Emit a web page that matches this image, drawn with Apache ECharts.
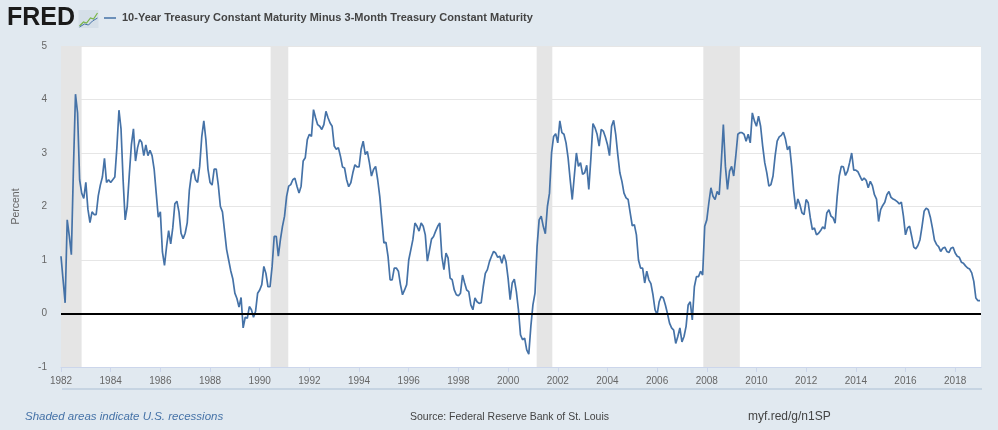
<!DOCTYPE html>
<html>
<head>
<meta charset="utf-8">
<script src="https://cdn.jsdelivr.net/npm/echarts@6/dist/echarts.min.js"></script>
<style>
  html, body { margin: 0; padding: 0; background: #e1e9f0; }
  #chart { width: 998px; height: 430px; }
</style>
</head>
<body>
<div id="chart"></div>
<script>
// Monthly values (percent), January..December
const y1982 = [1.07, 0.63, 0.2, 1.75, 1.45, 1.1, 2.7, 4.1, 3.75, 2.5, 2.25, 2.15];
const y1983 = [2.45, 1.95, 1.7, 1.9, 1.85, 1.85, 2.2, 2.4, 2.55, 2.9, 2.45, 2.5];
const y1984 = [2.45, 2.5, 2.55, 3.1, 3.8, 3.45, 2.5, 1.75, 2.0, 2.6, 3.15, 3.45];
const y1985 = [2.85, 3.1, 3.25, 3.2, 2.95, 3.15, 2.95, 3.05, 2.95, 2.7, 2.25, 1.8];
const y1986 = [1.9, 1.15, 0.9, 1.25, 1.55, 1.3, 1.6, 2.05, 2.1, 1.9, 1.5, 1.4];
const y1987 = [1.5, 1.7, 2.3, 2.6, 2.7, 2.5, 2.45, 2.75, 3.3, 3.6, 3.25, 2.7];
const y1988 = [2.45, 2.4, 2.7, 2.7, 2.4, 2.0, 1.9, 1.55, 1.2, 1.0, 0.8, 0.65];
const y1989 = [0.38, 0.28, 0.12, 0.3, -0.27, -0.07, -0.09, 0.13, 0.07, -0.07, 0.04, 0.38];
const y1990 = [0.44, 0.54, 0.88, 0.75, 0.5, 0.5, 0.88, 1.44, 1.44, 1.07, 1.38, 1.63];
const y1991 = [1.82, 2.19, 2.38, 2.41, 2.5, 2.53, 2.38, 2.25, 2.38, 2.85, 2.91, 3.25];
const y1992 = [3.35, 3.31, 3.81, 3.66, 3.53, 3.5, 3.44, 3.53, 3.78, 3.66, 3.56, 3.5];
const y1993 = [3.13, 3.07, 3.1, 2.94, 2.74, 2.72, 2.5, 2.37, 2.44, 2.63, 2.78, 2.74];
const y1994 = [2.74, 3.07, 3.22, 2.97, 3.03, 2.82, 2.57, 2.69, 2.75, 2.5, 2.19, 1.75];
const y1995 = [1.32, 1.33, 1.07, 0.63, 0.63, 0.85, 0.85, 0.79, 0.54, 0.35, 0.44, 0.54];
const y1996 = [1.0, 1.19, 1.38, 1.69, 1.63, 1.54, 1.69, 1.63, 1.47, 0.98, 1.18, 1.39];
const y1997 = [1.44, 1.54, 1.63, 1.69, 1.07, 0.82, 1.13, 1.04, 0.66, 0.63, 0.44, 0.35];
const y1998 = [0.33, 0.38, 0.72, 0.57, 0.44, 0.41, 0.16, 0.07, 0.29, 0.22, 0.19, 0.2];
const y1999 = [0.5, 0.75, 0.82, 0.97, 1.07, 1.16, 1.13, 1.05, 1.07, 0.94, 1.1, 0.97];
const y2000 = [0.66, 0.26, 0.57, 0.64, 0.41, 0.07, -0.4, -0.49, -0.46, -0.68, -0.76, -0.24];
const y2001 = [0.16, 0.38, 1.25, 1.75, 1.82, 1.63, 1.49, 2.0, 2.25, 3.0, 3.31, 3.36];
const y2002 = [3.19, 3.6, 3.38, 3.35, 3.19, 2.91, 2.5, 2.13, 2.57, 3.0, 2.75, 2.82];
const y2003 = [2.6, 2.63, 2.77, 2.32, 2.9, 3.55, 3.47, 3.35, 3.13, 3.44, 3.41, 3.3];
const y2004 = [3.16, 2.95, 3.5, 3.61, 3.35, 2.97, 2.63, 2.47, 2.25, 2.16, 2.13, 1.88];
const y2005 = [1.64, 1.66, 1.47, 1.0, 0.85, 0.85, 0.57, 0.79, 0.63, 0.56, 0.35, 0.07];
const y2006 = [-0.02, 0.22, 0.32, 0.29, 0.16, 0.0, -0.18, -0.27, -0.31, -0.56, -0.43, -0.27];
const y2007 = [-0.53, -0.43, -0.24, 0.16, 0.22, -0.12, 0.5, 0.69, 0.69, 0.79, 0.72, 1.63];
const y2008 = [1.75, 2.07, 2.35, 2.19, 2.13, 2.28, 2.22, 2.82, 3.53, 2.75, 2.32, 2.66];
const y2009 = [2.75, 2.57, 2.94, 3.35, 3.38, 3.38, 3.35, 3.22, 3.35, 3.19, 3.75, 3.6];
const y2010 = [3.5, 3.69, 3.5, 3.13, 2.82, 2.63, 2.38, 2.41, 2.57, 2.94, 3.22, 3.3];
const y2011 = [3.33, 3.39, 3.26, 3.06, 3.13, 2.75, 2.28, 1.95, 2.14, 2.03, 1.88, 1.85];
const y2012 = [2.13, 2.07, 1.79, 1.57, 1.6, 1.47, 1.5, 1.55, 1.62, 1.58, 1.88, 1.94];
const y2013 = [1.82, 1.79, 1.69, 2.19, 2.57, 2.75, 2.74, 2.58, 2.66, 2.82, 3.0, 2.68];
const y2014 = [2.68, 2.65, 2.57, 2.49, 2.53, 2.49, 2.35, 2.47, 2.39, 2.22, 2.14, 1.72];
const y2015 = [1.94, 2.02, 2.08, 2.22, 2.28, 2.17, 2.14, 2.12, 2.09, 2.05, 2.08, 1.82];
const y2016 = [1.47, 1.6, 1.63, 1.44, 1.24, 1.21, 1.27, 1.38, 1.63, 1.91, 1.97, 1.94];
const y2017 = [1.8, 1.6, 1.37, 1.29, 1.25, 1.16, 1.22, 1.24, 1.16, 1.14, 1.22, 1.24];
const y2018 = [1.13, 1.07, 1.05, 0.96, 0.94, 0.89, 0.85, 0.83, 0.76, 0.6, 0.29, 0.24];
const y2019 = [0.24];

const years = [1982,1983,1984,1985,1986,1987,1988,1989,1990,1991,1992,1993,1994,1995,1996,1997,1998,1999,2000,2001,2002,2003,2004,2005,2006,2007,2008,2009,2010,2011,2012,2013,2014,2015,2016,2017,2018,2019];
const yearValues = [y1982,y1983,y1984,y1985,y1986,y1987,y1988,y1989,y1990,y1991,y1992,y1993,y1994,y1995,y1996,y1997,y1998,y1999,y2000,y2001,y2002,y2003,y2004,y2005,y2006,y2007,y2008,y2009,y2010,y2011,y2012,y2013,y2014,y2015,y2016,y2017,y2018,y2019];

// Recession periods (decimal years, start/end of shading)
const recessionStarts = [1982.0, 1990.44, 2001.15, 2007.86];
const recessionEnds   = [1982.83, 1991.15, 2001.78, 2009.33];

const seriesName = '10-Year Treasury Constant Maturity Minus 3-Month Treasury Constant Maturity';

const seriesData = [];
years.forEach((yr, i) => {
  yearValues[i].forEach((v, m) => seriesData.push([yr + m / 12, v]));
});
const recessionAreas = recessionStarts.map((s, i) => [{ xAxis: s }, { xAxis: recessionEnds[i] }]);

const chart = echarts.init(document.getElementById('chart'), null, { renderer: 'canvas' });
chart.setOption({
  backgroundColor: '#e1e9f0',
  animation: false,
  textStyle: { fontFamily: 'Liberation Sans, Arial, sans-serif' },
  grid: { left: 61, right: 17, top: 46, bottom: 63, show: true, backgroundColor: '#ffffff', borderWidth: 0 },
  xAxis: {
    type: 'value', min: 1982, max: 2019.04, interval: 2,
    axisLine: { show: true, onZero: false, lineStyle: { color: '#ccd6eb', width: 1 } },
    axisTick: { show: true, length: 5, lineStyle: { color: '#ccd6eb' } },
    splitLine: { show: false },
    axisLabel: { color: '#666666', fontSize: 10, margin: 9, formatter: v => String(Math.round(v)), showMaxLabel: false }
  },
  yAxis: {
    type: 'value', min: -1, max: 5, interval: 1,
    name: 'Percent', nameLocation: 'middle', nameGap: 39,
    nameTextStyle: { color: '#666666', fontSize: 10.5 },
    axisLine: { show: false }, axisTick: { show: false },
    axisLabel: { color: '#666666', fontSize: 10, margin: 14 },
    splitLine: { show: true, lineStyle: { color: '#e6e6e6', width: 1 } }
  },
  series: [{
    name: seriesName,
    type: 'line',
    data: seriesData,
    showSymbol: false,
    symbol: 'none',
    lineStyle: { color: '#4572a7', width: 1.7 },
    z: 3,
    markArea: { silent: true, itemStyle: { color: '#e5e5e5' }, data: recessionAreas },
    markLine: {
      silent: true, symbol: 'none', label: { show: false },
      lineStyle: { color: '#000000', width: 2, type: 'solid' },
      data: [{ yAxis: 0 }]
    }
  }],
  graphic: [
    { type: 'text', left: 7, top: 6, style: { text: 'FRED', font: 'bold 25px "Liberation Sans", Arial, sans-serif', fill: '#1a1a1a' } },
    { type: 'group', left: 77, top: 10, children: [
      { type: 'rect', shape: { x: 0, y: 0, width: 20, height: 18 }, style: { fill: '#d5dfe8' } },
      { type: 'polyline', shape: { points: [[1, 16], [5, 12], [8, 13], [12, 8], [15, 9], [19, 3]] }, style: { stroke: '#7ab648', lineWidth: 1.2, fill: null } },
      { type: 'polyline', shape: { points: [[1, 17], [6, 14], [10, 15], [14, 11], [19, 8]] }, style: { stroke: '#4572a7', lineWidth: 1, fill: null } }
    ] },
    { type: 'line', shape: { x1: 104, y1: 18, x2: 116, y2: 18 }, style: { stroke: '#4572a7', lineWidth: 1.5 } },
    { type: 'text', left: 122, top: 12, style: { text: seriesName, font: 'bold 11px "Liberation Sans", Arial, sans-serif', fill: '#444444' } },
    { type: 'line', shape: { x1: 62, y1: 389, x2: 982, y2: 389 }, style: { stroke: '#c6d4e2', lineWidth: 2 } },
    { type: 'text', left: 25, top: 411, style: { text: 'Shaded areas indicate U.S. recessions', font: 'italic 11.5px "Liberation Sans", Arial, sans-serif', fill: '#4572a7' } },
    { type: 'text', left: 410, top: 412, style: { text: 'Source: Federal Reserve Bank of St. Louis', font: '10.5px "Liberation Sans", Arial, sans-serif', fill: '#444444' } },
    { type: 'text', left: 748, top: 411, style: { text: 'myf.red/g/n1SP', font: '12px "Liberation Sans", Arial, sans-serif', fill: '#444444' } }
  ]
});
</script>
</body>
</html>
